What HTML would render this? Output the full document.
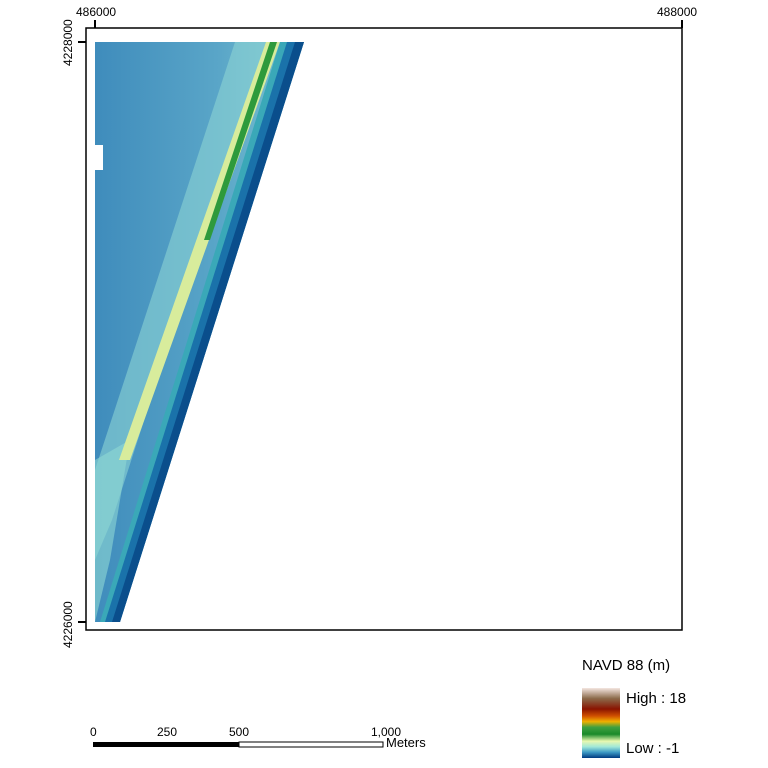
<!DOCTYPE html><html><head><style>body{margin:0;background:#fff}svg{display:block;font-family:"Liberation Sans Narrow","Liberation Sans",sans-serif}</style></head><body>
<svg width="768" height="768" viewBox="0 0 768 768">
<defs>
<linearGradient id="lg" x1="0" y1="0" x2="0" y2="1">
<stop offset="0" stop-color="#f4e6e0"/><stop offset="0.15" stop-color="#8b6a4a"/><stop offset="0.3" stop-color="#8a1400"/><stop offset="0.4" stop-color="#d05000"/><stop offset="0.48" stop-color="#f0b000"/><stop offset="0.56" stop-color="#40a040"/><stop offset="0.66" stop-color="#1a8a2a"/><stop offset="0.76" stop-color="#e8f8b0"/><stop offset="0.84" stop-color="#a0e8d8"/><stop offset="0.92" stop-color="#3c98c4"/><stop offset="1" stop-color="#003a80"/>
</linearGradient>
<linearGradient id="land" x1="0" y1="0" x2="1" y2="0">
<stop offset="0" stop-color="#3f8cbc"/><stop offset="0.6" stop-color="#5aa6c8"/><stop offset="1" stop-color="#7cc4d0"/>
</linearGradient>
</defs>
<rect x="86" y="28" width="596" height="602" fill="none" stroke="#000" stroke-width="1.5"/>
<polygon points="95,42 304,42 120,622 95,622" fill="url(#land)"/>
<polygon points="235,42 266,42 112,520 95,560 95,470" fill="#8cd4d4" opacity="0.6"/>
<polygon points="95,460 130,440 110,560 95,622" fill="#8fd8d4" opacity="0.6"/>
<polygon points="266,42 280,42 130,460 119,460" fill="#d8ec9c"/>
<polygon points="270,42 277,42 210,240 204,240" fill="#2e9a3c"/>
<polygon points="280,42 290,42 108,622 100,622" fill="#3aa8b8"/>
<polygon points="287,42 304,42 120,622 105,622" fill="#1a72aa"/>
<polygon points="295,42 304,42 120,622 112,622" fill="#0a4e8c"/>
<rect x="95" y="145" width="8" height="25" fill="#fff"/>
<g stroke="#000" stroke-width="2"><line x1="95" y1="20" x2="95" y2="28"/><line x1="682" y1="20" x2="682" y2="28"/><line x1="78" y1="42" x2="86" y2="42"/><line x1="78" y1="622" x2="86" y2="622"/></g>
<g font-size="12" fill="#000">
<text x="76" y="16">486000</text><text x="657" y="16">488000</text>
<text transform="translate(72,66) rotate(-90)">4228000</text>
<text transform="translate(72,648) rotate(-90)">4226000</text>
<text x="90" y="736">0</text><text x="157" y="736">250</text><text x="229" y="736">500</text><text x="371" y="736">1,000</text>
<text x="386" y="747" font-size="13">Meters</text>
</g>
<rect x="93" y="742" width="146" height="5" fill="#000"/>
<rect x="239" y="742" width="144" height="5" fill="#fff" stroke="#000" stroke-width="1"/>
<text x="582" y="670" font-size="15">NAVD 88 (m)</text>
<rect x="582" y="688" width="38" height="70" fill="url(#lg)"/>
<text x="626" y="703" font-size="15">High : 18</text>
<text x="626" y="753" font-size="15">Low : -1</text>
</svg></body></html>
